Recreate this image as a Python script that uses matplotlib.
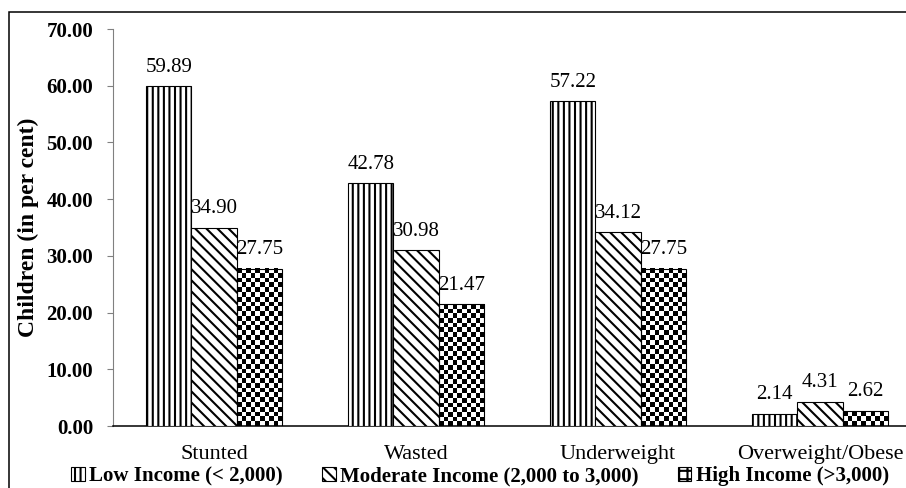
import numpy as np
import matplotlib
matplotlib.use("Agg")
import matplotlib.pyplot as plt
from matplotlib.patches import Patch, Rectangle

plt.rcParams['font.family'] = ['Liberation Serif', 'DejaVu Serif']
plt.rcParams['hatch.linewidth'] = 1.5

categories = ["Stunted", "Wasted", "Underweight", "Overweight/Obese"]
low_income = [59.89, 42.78, 57.22, 2.14]
moderate_income = [34.90, 30.98, 34.12, 4.31]
high_income = [27.75, 21.47, 27.75, 2.62]
series_names = ["Low Income (< 2,000)", "Moderate Income (2,000 to 3,000)", "High Income (>3,000)"]
yticks = [0, 10, 20, 30, 40, 50, 60, 70]

fig = plt.figure(figsize=(9.06, 4.88), dpi=100)
ax = fig.add_axes([113 / 906, 62 / 488, 808 / 906, 397 / 488])
ax.set_xlim(-0.5, len(categories) - 0.5)
ax.set_ylim(0, 70)

x = np.arange(len(categories))
w = 0.224

b_low = ax.bar(x - w, low_income, w, facecolor='white', edgecolor='black',
               linewidth=0.8, hatch='|||', zorder=3)
b_mod = ax.bar(x, moderate_income, w, facecolor='white', edgecolor='black',
               linewidth=0.8, hatch='\\\\\\', zorder=3)
b_high = ax.bar(x + w, high_income, w, facecolor='none', edgecolor='black',
                linewidth=0.8, zorder=3)

# checkerboard fill for the high income bars (no such hatch in matplotlib)
cell = 4.7
for bar in b_high:
    x0, y0 = bar.get_x(), bar.get_y()
    x1, y1 = x0 + bar.get_width(), y0 + bar.get_height()
    (px0, py0), (px1, py1) = ax.transData.transform([(x0, y0), (x1, y1)])
    ncol = max(1, int(round((px1 - px0) / cell)))
    nrow = max(1, int(round((py1 - py0) / cell)))
    checker = (np.add.outer(np.arange(nrow), np.arange(ncol)) % 2).astype(float)
    ax.imshow(checker, extent=(x0, x1, y0, y1), cmap='gray', vmin=0, vmax=1,
              interpolation='nearest', aspect='auto', origin='lower', zorder=2)

ax.set_xlim(-0.5, len(categories) - 0.5)
ax.set_ylim(0, 70)

for cont in (b_low, b_mod, b_high):
    ax.bar_label(cont, fmt='%.2f', padding=7, fontsize=15)

ax.set_yticks(yticks, labels=[f"{v:.2f}" for v in yticks], fontweight='bold', fontsize=15)
ax.set_xticks(x, labels=categories, fontsize=16)
ax.tick_params(axis='x', length=0, pad=14)
ax.tick_params(axis='y', length=4.3, width=0.8, color='#808080', pad=10)

for side in ('top', 'right'):
    ax.spines[side].set_visible(False)
ax.spines['left'].set_color('#808080')
ax.spines['left'].set_linewidth(0.8)
ax.spines['bottom'].set_color('black')
ax.spines['bottom'].set_linewidth(1.1)

ax.set_ylabel("Children (in per cent)", fontweight='bold', fontsize=17)
ax.yaxis.set_label_coords(-0.092, 0.5)

handles = [
    Patch(facecolor='white', edgecolor='black', hatch='|||', linewidth=0.8),
    Patch(facecolor='white', edgecolor='black', hatch='\\\\\\', linewidth=0.8),
    Patch(facecolor='white', edgecolor='black', hatch='++', linewidth=0.8),
]
leg = fig.legend(handles, series_names, loc='center', bbox_to_anchor=(480 / 906, 1 - 476 / 488),
                 ncol=3, frameon=False, handlelength=0.65, handleheight=0.65,
                 handletextpad=0.2, columnspacing=1.9,
                 prop={'family': 'Liberation Serif', 'weight': 'bold', 'size': 15})

# outer chart border
fig.patches.append(Rectangle((9 / 906, -0.1), 1.2, 1.1 - 12 / 488, transform=fig.transFigure,
                             fill=False, edgecolor='black', linewidth=1.1))

fig.savefig("out.png", dpi=100)
